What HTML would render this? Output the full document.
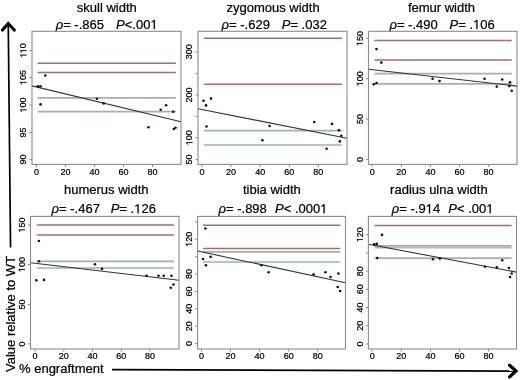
<!DOCTYPE html>
<html><head><meta charset="utf-8"><style>
html,body{margin:0;padding:0;background:#fff;}
svg{display:block;filter:blur(0.35px);}
text{font-family:"Liberation Sans", sans-serif;fill:#000;stroke:#000;stroke-width:0.22px;}
.o{fill-opacity:0;stroke-opacity:0;}
</style></head><body>
<svg width="520" height="380" viewBox="0 0 520 380">
<rect width="520" height="380" fill="#fff"/>
<text x="106.75" y="11.5" font-size="13" text-anchor="middle">skull width</text>
<text x="106.7" y="29" font-size="13" text-anchor="middle" xml:space="preserve"><tspan font-style="italic">ρ</tspan>= -.865   <tspan font-style="italic" dx="1.3">P</tspan>&lt;.00<tspan class="o">1</tspan></text>
<line x1="37.6" y1="63.3" x2="175.9" y2="63.3" stroke="#a46c75" stroke-width="1.5"/>
<line x1="37.6" y1="72.5" x2="175.9" y2="72.5" stroke="#a46c75" stroke-width="1.5"/>
<line x1="37.6" y1="97.8" x2="175.9" y2="97.8" stroke="#98ba9c" stroke-width="1.7"/>
<line x1="37.6" y1="111.7" x2="175.9" y2="111.7" stroke="#98ba9c" stroke-width="1.7"/>
<line x1="32" y1="85.9" x2="181" y2="121.7" stroke="#333333" stroke-width="1.1"/>
<circle cx="37.8" cy="86.2" r="1.3" fill="#111"/>
<circle cx="40.5" cy="86.2" r="1.3" fill="#111"/>
<circle cx="45.3" cy="75.5" r="1.3" fill="#111"/>
<circle cx="40.5" cy="104.4" r="1.3" fill="#111"/>
<circle cx="96.9" cy="98.8" r="1.3" fill="#111"/>
<circle cx="103.7" cy="103.4" r="1.3" fill="#111"/>
<circle cx="148.5" cy="127.3" r="1.3" fill="#111"/>
<circle cx="160.7" cy="109.7" r="1.3" fill="#111"/>
<circle cx="166.1" cy="105.3" r="1.3" fill="#111"/>
<circle cx="173.2" cy="111.8" r="1.3" fill="#111"/>
<circle cx="173.8" cy="129" r="1.3" fill="#111"/>
<circle cx="175.5" cy="127.8" r="1.3" fill="#111"/>
<rect x="32" y="31.3" width="149" height="133.1" fill="none" stroke="#8c8c8c" stroke-width="1.1"/>
<line x1="29.4" y1="159.6" x2="32" y2="159.6" stroke="#8c8c8c" stroke-width="1"/>
<text x="26.45" y="159.6" font-size="9" text-anchor="middle" transform="rotate(-90 26.45 159.6)">90</text>
<line x1="29.4" y1="132.4" x2="32" y2="132.4" stroke="#8c8c8c" stroke-width="1"/>
<text x="26.45" y="132.4" font-size="9" text-anchor="middle" transform="rotate(-90 26.45 132.4)">95</text>
<line x1="29.4" y1="105" x2="32" y2="105" stroke="#8c8c8c" stroke-width="1"/>
<text x="26.45" y="105" font-size="9" text-anchor="middle" transform="rotate(-90 26.45 105)"><tspan class="o">1</tspan>00</text>
<line x1="29.4" y1="77.6" x2="32" y2="77.6" stroke="#8c8c8c" stroke-width="1"/>
<text x="26.45" y="77.6" font-size="9" text-anchor="middle" transform="rotate(-90 26.45 77.6)"><tspan class="o">1</tspan>05</text>
<line x1="29.4" y1="50.5" x2="32" y2="50.5" stroke="#8c8c8c" stroke-width="1"/>
<text x="26.45" y="50.5" font-size="9" text-anchor="middle" transform="rotate(-90 26.45 50.5)"><tspan class="o">1</tspan><tspan class="o">1</tspan>0</text>
<line x1="36.5" y1="164.4" x2="36.5" y2="167" stroke="#8c8c8c" stroke-width="1"/>
<text x="36.5" y="174.9" font-size="9" text-anchor="middle">0</text>
<line x1="65.5" y1="164.4" x2="65.5" y2="167" stroke="#8c8c8c" stroke-width="1"/>
<text x="65.5" y="174.9" font-size="9" text-anchor="middle">20</text>
<line x1="94.5" y1="164.4" x2="94.5" y2="167" stroke="#8c8c8c" stroke-width="1"/>
<text x="94.5" y="174.9" font-size="9" text-anchor="middle">40</text>
<line x1="123.5" y1="164.4" x2="123.5" y2="167" stroke="#8c8c8c" stroke-width="1"/>
<text x="123.5" y="174.9" font-size="9" text-anchor="middle">60</text>
<line x1="152.5" y1="164.4" x2="152.5" y2="167" stroke="#8c8c8c" stroke-width="1"/>
<text x="152.5" y="174.9" font-size="9" text-anchor="middle">80</text>
<text x="273.1" y="11.5" font-size="13" text-anchor="middle">zygomous width</text>
<text x="274.25" y="29" font-size="13" text-anchor="middle" xml:space="preserve"><tspan font-style="italic">ρ</tspan>= -.629   <tspan font-style="italic" dx="1">P</tspan>= .032</text>
<line x1="203.7" y1="38.2" x2="342" y2="38.2" stroke="#a46c75" stroke-width="1.5"/>
<line x1="203.7" y1="84.2" x2="342" y2="84.2" stroke="#a46c75" stroke-width="1.5"/>
<line x1="203.7" y1="130.7" x2="342" y2="130.7" stroke="#98ba9c" stroke-width="1.7"/>
<line x1="203.7" y1="145" x2="342" y2="145" stroke="#98ba9c" stroke-width="1.7"/>
<line x1="198" y1="108.7" x2="347" y2="138.2" stroke="#333333" stroke-width="1.1"/>
<circle cx="203.5" cy="100.7" r="1.3" fill="#111"/>
<circle cx="206" cy="105.4" r="1.3" fill="#111"/>
<circle cx="211" cy="98.6" r="1.3" fill="#111"/>
<circle cx="206.5" cy="126.5" r="1.3" fill="#111"/>
<circle cx="262.4" cy="140.2" r="1.3" fill="#111"/>
<circle cx="269.6" cy="126" r="1.3" fill="#111"/>
<circle cx="314.3" cy="122" r="1.3" fill="#111"/>
<circle cx="332" cy="123.9" r="1.3" fill="#111"/>
<circle cx="338.9" cy="130.3" r="1.3" fill="#111"/>
<circle cx="341.3" cy="135.7" r="1.3" fill="#111"/>
<circle cx="339.8" cy="141.4" r="1.3" fill="#111"/>
<circle cx="326.6" cy="148.7" r="1.3" fill="#111"/>
<rect x="198" y="31.3" width="149" height="133.1" fill="none" stroke="#8c8c8c" stroke-width="1.1"/>
<line x1="195.4" y1="159.5" x2="198" y2="159.5" stroke="#8c8c8c" stroke-width="1"/>
<text x="192.45" y="159.5" font-size="9" text-anchor="middle" transform="rotate(-90 192.45 159.5)">50</text>
<line x1="195.4" y1="137.8" x2="198" y2="137.8" stroke="#8c8c8c" stroke-width="1"/>
<text x="192.45" y="137.8" font-size="9" text-anchor="middle" transform="rotate(-90 192.45 137.8)"><tspan class="o">1</tspan>00</text>
<line x1="195.4" y1="116.5" x2="198" y2="116.5" stroke="#8c8c8c" stroke-width="1"/>
<line x1="195.4" y1="94.9" x2="198" y2="94.9" stroke="#8c8c8c" stroke-width="1"/>
<text x="192.45" y="94.9" font-size="9" text-anchor="middle" transform="rotate(-90 192.45 94.9)">200</text>
<line x1="195.4" y1="73.6" x2="198" y2="73.6" stroke="#8c8c8c" stroke-width="1"/>
<line x1="195.4" y1="51.8" x2="198" y2="51.8" stroke="#8c8c8c" stroke-width="1"/>
<text x="192.45" y="51.8" font-size="9" text-anchor="middle" transform="rotate(-90 192.45 51.8)">300</text>
<line x1="202" y1="164.4" x2="202" y2="167" stroke="#8c8c8c" stroke-width="1"/>
<text x="202" y="174.9" font-size="9" text-anchor="middle">0</text>
<line x1="231.08" y1="164.4" x2="231.08" y2="167" stroke="#8c8c8c" stroke-width="1"/>
<text x="231.08" y="174.9" font-size="9" text-anchor="middle">20</text>
<line x1="260.16" y1="164.4" x2="260.16" y2="167" stroke="#8c8c8c" stroke-width="1"/>
<text x="260.16" y="174.9" font-size="9" text-anchor="middle">40</text>
<line x1="289.24" y1="164.4" x2="289.24" y2="167" stroke="#8c8c8c" stroke-width="1"/>
<text x="289.24" y="174.9" font-size="9" text-anchor="middle">60</text>
<line x1="318.32" y1="164.4" x2="318.32" y2="167" stroke="#8c8c8c" stroke-width="1"/>
<text x="318.32" y="174.9" font-size="9" text-anchor="middle">80</text>
<text x="441.5" y="11.5" font-size="13" text-anchor="middle">femur width</text>
<text x="442.1" y="29" font-size="13" text-anchor="middle" xml:space="preserve"><tspan font-style="italic">ρ</tspan>= -.490   <tspan font-style="italic" dx="1">P</tspan>= .<tspan class="o">1</tspan>06</text>
<line x1="374.4" y1="40.4" x2="511.7" y2="40.4" stroke="#a46c75" stroke-width="1.5"/>
<line x1="374.4" y1="59.9" x2="511.7" y2="59.9" stroke="#a46c75" stroke-width="1.5"/>
<line x1="374.4" y1="73.7" x2="511.7" y2="73.7" stroke="#98ba9c" stroke-width="1.7"/>
<line x1="374.4" y1="83.9" x2="511.7" y2="83.9" stroke="#98ba9c" stroke-width="1.7"/>
<line x1="368.5" y1="69.3" x2="517" y2="86.1" stroke="#333333" stroke-width="1.1"/>
<circle cx="376.5" cy="49.1" r="1.3" fill="#111"/>
<circle cx="381.3" cy="62.6" r="1.3" fill="#111"/>
<circle cx="373.7" cy="84.2" r="1.3" fill="#111"/>
<circle cx="376.5" cy="83" r="1.3" fill="#111"/>
<circle cx="432.6" cy="78.8" r="1.3" fill="#111"/>
<circle cx="439.5" cy="81.1" r="1.3" fill="#111"/>
<circle cx="484.5" cy="78.8" r="1.3" fill="#111"/>
<circle cx="502.2" cy="79.5" r="1.3" fill="#111"/>
<circle cx="496.8" cy="86.6" r="1.3" fill="#111"/>
<circle cx="510" cy="82.3" r="1.3" fill="#111"/>
<circle cx="509.3" cy="86.1" r="1.3" fill="#111"/>
<circle cx="511.7" cy="90.8" r="1.3" fill="#111"/>
<rect x="368.5" y="31.3" width="148.5" height="133.1" fill="none" stroke="#8c8c8c" stroke-width="1.1"/>
<line x1="365.9" y1="159.4" x2="368.5" y2="159.4" stroke="#8c8c8c" stroke-width="1"/>
<text x="362.95" y="159.4" font-size="9" text-anchor="middle" transform="rotate(-90 362.95 159.4)">0</text>
<line x1="365.9" y1="119.1" x2="368.5" y2="119.1" stroke="#8c8c8c" stroke-width="1"/>
<text x="362.95" y="119.1" font-size="9" text-anchor="middle" transform="rotate(-90 362.95 119.1)">50</text>
<line x1="365.9" y1="78.8" x2="368.5" y2="78.8" stroke="#8c8c8c" stroke-width="1"/>
<text x="362.95" y="78.8" font-size="9" text-anchor="middle" transform="rotate(-90 362.95 78.8)"><tspan class="o">1</tspan>00</text>
<line x1="365.9" y1="38.5" x2="368.5" y2="38.5" stroke="#8c8c8c" stroke-width="1"/>
<text x="362.95" y="38.5" font-size="9" text-anchor="middle" transform="rotate(-90 362.95 38.5)"><tspan class="o">1</tspan>50</text>
<line x1="372.2" y1="164.4" x2="372.2" y2="167" stroke="#8c8c8c" stroke-width="1"/>
<text x="372.2" y="174.9" font-size="9" text-anchor="middle">0</text>
<line x1="401.3" y1="164.4" x2="401.3" y2="167" stroke="#8c8c8c" stroke-width="1"/>
<text x="401.3" y="174.9" font-size="9" text-anchor="middle">20</text>
<line x1="430.4" y1="164.4" x2="430.4" y2="167" stroke="#8c8c8c" stroke-width="1"/>
<text x="430.4" y="174.9" font-size="9" text-anchor="middle">40</text>
<line x1="459.5" y1="164.4" x2="459.5" y2="167" stroke="#8c8c8c" stroke-width="1"/>
<text x="459.5" y="174.9" font-size="9" text-anchor="middle">60</text>
<line x1="488.6" y1="164.4" x2="488.6" y2="167" stroke="#8c8c8c" stroke-width="1"/>
<text x="488.6" y="174.9" font-size="9" text-anchor="middle">80</text>
<text x="106.25" y="193.7" font-size="13" text-anchor="middle">humerus width</text>
<text x="103.75" y="213.3" font-size="13" text-anchor="middle" xml:space="preserve"><tspan font-style="italic">ρ</tspan>= -.467   <tspan font-style="italic" dx="0">P</tspan>= .<tspan class="o">1</tspan>26</text>
<line x1="36.8" y1="225" x2="174" y2="225" stroke="#a46c75" stroke-width="1.5"/>
<line x1="36.8" y1="235" x2="174" y2="235" stroke="#a46c75" stroke-width="1.5"/>
<line x1="36.8" y1="261.3" x2="174" y2="261.3" stroke="#98ba9c" stroke-width="1.7"/>
<line x1="36.8" y1="268" x2="174" y2="268" stroke="#98ba9c" stroke-width="1.7"/>
<line x1="30.5" y1="262.7" x2="179" y2="280.3" stroke="#333333" stroke-width="1.1"/>
<circle cx="38.9" cy="241" r="1.3" fill="#111"/>
<circle cx="38.9" cy="261.3" r="1.3" fill="#111"/>
<circle cx="36.3" cy="280.3" r="1.3" fill="#111"/>
<circle cx="43.9" cy="279.9" r="1.3" fill="#111"/>
<circle cx="95" cy="264.2" r="1.3" fill="#111"/>
<circle cx="102" cy="268.9" r="1.3" fill="#111"/>
<circle cx="146.6" cy="275.8" r="1.3" fill="#111"/>
<circle cx="158.5" cy="275.8" r="1.3" fill="#111"/>
<circle cx="163.7" cy="275.8" r="1.3" fill="#111"/>
<circle cx="171.5" cy="275.8" r="1.3" fill="#111"/>
<circle cx="170.8" cy="287.7" r="1.3" fill="#111"/>
<circle cx="173.5" cy="284.5" r="1.3" fill="#111"/>
<rect x="30.5" y="216.4" width="148.5" height="132.6" fill="none" stroke="#8c8c8c" stroke-width="1.1"/>
<line x1="27.9" y1="343.9" x2="30.5" y2="343.9" stroke="#8c8c8c" stroke-width="1"/>
<text x="24.95" y="343.9" font-size="9" text-anchor="middle" transform="rotate(-90 24.95 343.9)">0</text>
<line x1="27.9" y1="304.4" x2="30.5" y2="304.4" stroke="#8c8c8c" stroke-width="1"/>
<text x="24.95" y="304.4" font-size="9" text-anchor="middle" transform="rotate(-90 24.95 304.4)">50</text>
<line x1="27.9" y1="264.6" x2="30.5" y2="264.6" stroke="#8c8c8c" stroke-width="1"/>
<text x="24.95" y="264.6" font-size="9" text-anchor="middle" transform="rotate(-90 24.95 264.6)"><tspan class="o">1</tspan>00</text>
<line x1="27.9" y1="225" x2="30.5" y2="225" stroke="#8c8c8c" stroke-width="1"/>
<text x="24.95" y="225" font-size="9" text-anchor="middle" transform="rotate(-90 24.95 225)"><tspan class="o">1</tspan>50</text>
<line x1="35.1" y1="349" x2="35.1" y2="351.6" stroke="#8c8c8c" stroke-width="1"/>
<text x="35.1" y="358.7" font-size="9" text-anchor="middle">0</text>
<line x1="63.8" y1="349" x2="63.8" y2="351.6" stroke="#8c8c8c" stroke-width="1"/>
<text x="63.8" y="358.7" font-size="9" text-anchor="middle">20</text>
<line x1="92.5" y1="349" x2="92.5" y2="351.6" stroke="#8c8c8c" stroke-width="1"/>
<text x="92.5" y="358.7" font-size="9" text-anchor="middle">40</text>
<line x1="121.2" y1="349" x2="121.2" y2="351.6" stroke="#8c8c8c" stroke-width="1"/>
<text x="121.2" y="358.7" font-size="9" text-anchor="middle">60</text>
<line x1="149.9" y1="349" x2="149.9" y2="351.6" stroke="#8c8c8c" stroke-width="1"/>
<text x="149.9" y="358.7" font-size="9" text-anchor="middle">80</text>
<text x="271.9" y="193.7" font-size="13" text-anchor="middle">tibia width</text>
<text x="273" y="213.3" font-size="13" text-anchor="middle" xml:space="preserve"><tspan font-style="italic">ρ</tspan>= -.898  <tspan font-style="italic" dx="1">P</tspan>&lt; .000<tspan class="o">1</tspan></text>
<line x1="203" y1="225.3" x2="340.3" y2="225.3" stroke="#a46c75" stroke-width="1.5"/>
<line x1="203" y1="248.5" x2="340.3" y2="248.5" stroke="#a46c75" stroke-width="1.5"/>
<line x1="203" y1="251.9" x2="340.3" y2="251.9" stroke="#98ba9c" stroke-width="1.7"/>
<line x1="203" y1="262" x2="340.3" y2="262" stroke="#98ba9c" stroke-width="1.7"/>
<line x1="197.6" y1="251" x2="345.5" y2="282.7" stroke="#333333" stroke-width="1.1"/>
<circle cx="205.4" cy="228.5" r="1.3" fill="#111"/>
<circle cx="203" cy="259" r="1.3" fill="#111"/>
<circle cx="205.9" cy="265.2" r="1.3" fill="#111"/>
<circle cx="210.6" cy="256.9" r="1.3" fill="#111"/>
<circle cx="261.5" cy="265.2" r="1.3" fill="#111"/>
<circle cx="268.6" cy="272.2" r="1.3" fill="#111"/>
<circle cx="313.6" cy="274.4" r="1.3" fill="#111"/>
<circle cx="325.4" cy="272.3" r="1.3" fill="#111"/>
<circle cx="330.6" cy="277" r="1.3" fill="#111"/>
<circle cx="338.4" cy="273.5" r="1.3" fill="#111"/>
<circle cx="337.7" cy="287" r="1.3" fill="#111"/>
<circle cx="340.1" cy="291" r="1.3" fill="#111"/>
<rect x="197.6" y="216.4" width="147.9" height="132.6" fill="none" stroke="#8c8c8c" stroke-width="1.1"/>
<line x1="195" y1="343.6" x2="197.6" y2="343.6" stroke="#8c8c8c" stroke-width="1"/>
<text x="192.05" y="343.6" font-size="9" text-anchor="middle" transform="rotate(-90 192.05 343.6)">0</text>
<line x1="195" y1="326.22" x2="197.6" y2="326.22" stroke="#8c8c8c" stroke-width="1"/>
<text x="192.05" y="326.22" font-size="9" text-anchor="middle" transform="rotate(-90 192.05 326.22)">20</text>
<line x1="195" y1="308.84" x2="197.6" y2="308.84" stroke="#8c8c8c" stroke-width="1"/>
<text x="192.05" y="308.84" font-size="9" text-anchor="middle" transform="rotate(-90 192.05 308.84)">40</text>
<line x1="195" y1="291.46" x2="197.6" y2="291.46" stroke="#8c8c8c" stroke-width="1"/>
<text x="192.05" y="291.46" font-size="9" text-anchor="middle" transform="rotate(-90 192.05 291.46)">60</text>
<line x1="195" y1="274.08" x2="197.6" y2="274.08" stroke="#8c8c8c" stroke-width="1"/>
<text x="192.05" y="274.08" font-size="9" text-anchor="middle" transform="rotate(-90 192.05 274.08)">80</text>
<line x1="195" y1="256.7" x2="197.6" y2="256.7" stroke="#8c8c8c" stroke-width="1"/>
<line x1="195" y1="239.32" x2="197.6" y2="239.32" stroke="#8c8c8c" stroke-width="1"/>
<text x="192.05" y="239.32" font-size="9" text-anchor="middle" transform="rotate(-90 192.05 239.32)"><tspan class="o">1</tspan>20</text>
<line x1="195" y1="221.94" x2="197.6" y2="221.94" stroke="#8c8c8c" stroke-width="1"/>
<line x1="201.4" y1="349" x2="201.4" y2="351.6" stroke="#8c8c8c" stroke-width="1"/>
<text x="201.4" y="358.7" font-size="9" text-anchor="middle">0</text>
<line x1="230.5" y1="349" x2="230.5" y2="351.6" stroke="#8c8c8c" stroke-width="1"/>
<text x="230.5" y="358.7" font-size="9" text-anchor="middle">20</text>
<line x1="259.6" y1="349" x2="259.6" y2="351.6" stroke="#8c8c8c" stroke-width="1"/>
<text x="259.6" y="358.7" font-size="9" text-anchor="middle">40</text>
<line x1="288.7" y1="349" x2="288.7" y2="351.6" stroke="#8c8c8c" stroke-width="1"/>
<text x="288.7" y="358.7" font-size="9" text-anchor="middle">60</text>
<line x1="317.8" y1="349" x2="317.8" y2="351.6" stroke="#8c8c8c" stroke-width="1"/>
<text x="317.8" y="358.7" font-size="9" text-anchor="middle">80</text>
<text x="438.9" y="193.7" font-size="13" text-anchor="middle">radius ulna width</text>
<text x="442.7" y="213.3" font-size="13" text-anchor="middle" xml:space="preserve"><tspan font-style="italic">ρ</tspan>= -.9<tspan class="o">1</tspan>4  <tspan font-style="italic" dx="1">P</tspan>&lt; .00<tspan class="o">1</tspan></text>
<line x1="374.4" y1="225.4" x2="511.7" y2="225.4" stroke="#a46c75" stroke-width="1.5"/>
<line x1="374.4" y1="258.1" x2="511.7" y2="258.1" stroke="#98ba9c" stroke-width="1.7"/>
<line x1="374.4" y1="245.9" x2="511.7" y2="245.9" stroke="#b2a69f" stroke-width="1.7"/>
<line x1="374.4" y1="247.6" x2="511.7" y2="247.6" stroke="#b4bcae" stroke-width="1.7"/>
<line x1="368.4" y1="244.3" x2="516.5" y2="272.1" stroke="#333333" stroke-width="1.1"/>
<circle cx="382" cy="234.9" r="1.3" fill="#111"/>
<circle cx="374.2" cy="244.3" r="1.3" fill="#111"/>
<circle cx="376.8" cy="243.9" r="1.3" fill="#111"/>
<circle cx="377.2" cy="258.1" r="1.3" fill="#111"/>
<circle cx="432.9" cy="259.2" r="1.3" fill="#111"/>
<circle cx="439.8" cy="258.6" r="1.3" fill="#111"/>
<circle cx="485" cy="266.8" r="1.3" fill="#111"/>
<circle cx="496.8" cy="267.3" r="1.3" fill="#111"/>
<circle cx="502.2" cy="260.2" r="1.3" fill="#111"/>
<circle cx="508.9" cy="268" r="1.3" fill="#111"/>
<circle cx="511.7" cy="273.5" r="1.3" fill="#111"/>
<circle cx="510" cy="277" r="1.3" fill="#111"/>
<rect x="368.4" y="216.4" width="148.1" height="132.6" fill="none" stroke="#8c8c8c" stroke-width="1.1"/>
<line x1="365.8" y1="344" x2="368.4" y2="344" stroke="#8c8c8c" stroke-width="1"/>
<text x="362.85" y="344" font-size="9" text-anchor="middle" transform="rotate(-90 362.85 344)">0</text>
<line x1="365.8" y1="325.78" x2="368.4" y2="325.78" stroke="#8c8c8c" stroke-width="1"/>
<text x="362.85" y="325.78" font-size="9" text-anchor="middle" transform="rotate(-90 362.85 325.78)">20</text>
<line x1="365.8" y1="307.56" x2="368.4" y2="307.56" stroke="#8c8c8c" stroke-width="1"/>
<text x="362.85" y="307.56" font-size="9" text-anchor="middle" transform="rotate(-90 362.85 307.56)">40</text>
<line x1="365.8" y1="289.34" x2="368.4" y2="289.34" stroke="#8c8c8c" stroke-width="1"/>
<text x="362.85" y="289.34" font-size="9" text-anchor="middle" transform="rotate(-90 362.85 289.34)">60</text>
<line x1="365.8" y1="271.12" x2="368.4" y2="271.12" stroke="#8c8c8c" stroke-width="1"/>
<text x="362.85" y="271.12" font-size="9" text-anchor="middle" transform="rotate(-90 362.85 271.12)">80</text>
<line x1="365.8" y1="252.9" x2="368.4" y2="252.9" stroke="#8c8c8c" stroke-width="1"/>
<line x1="365.8" y1="234.68" x2="368.4" y2="234.68" stroke="#8c8c8c" stroke-width="1"/>
<text x="362.85" y="234.68" font-size="9" text-anchor="middle" transform="rotate(-90 362.85 234.68)"><tspan class="o">1</tspan>20</text>
<line x1="372.2" y1="349" x2="372.2" y2="351.6" stroke="#8c8c8c" stroke-width="1"/>
<text x="372.2" y="358.7" font-size="9" text-anchor="middle">0</text>
<line x1="401.3" y1="349" x2="401.3" y2="351.6" stroke="#8c8c8c" stroke-width="1"/>
<text x="401.3" y="358.7" font-size="9" text-anchor="middle">20</text>
<line x1="430.4" y1="349" x2="430.4" y2="351.6" stroke="#8c8c8c" stroke-width="1"/>
<text x="430.4" y="358.7" font-size="9" text-anchor="middle">40</text>
<line x1="459.5" y1="349" x2="459.5" y2="351.6" stroke="#8c8c8c" stroke-width="1"/>
<text x="459.5" y="358.7" font-size="9" text-anchor="middle">60</text>
<line x1="488.6" y1="349" x2="488.6" y2="351.6" stroke="#8c8c8c" stroke-width="1"/>
<text x="488.6" y="358.7" font-size="9" text-anchor="middle">80</text>
<line x1="8.25" y1="23.5" x2="10.55" y2="247.5" stroke="#000" stroke-width="1.7"/>
<polyline points="2.4,30.1 8.2,23.5 14.3,30" fill="none" stroke="#000" stroke-width="3.1" stroke-linecap="round" stroke-linejoin="miter"/>
<text x="14.8" y="372" font-size="13" transform="rotate(-90 14.8 372)">Value relative to WT</text>
<text x="19" y="372.9" font-size="13">% engraftment</text>
<line x1="112" y1="369.6" x2="515" y2="371.1" stroke="#000" stroke-width="1.7"/>
<polyline points="509.6,365.2 516,371.05 509.6,376.9" fill="none" stroke="#000" stroke-width="3.2" stroke-linecap="round" stroke-linejoin="miter"/>
<path transform="translate(150.467 29.000) scale(0.006348 -0.006348)" d="M515,0L515,1237L197,1010L197,1180L530,1409L696,1409L696,0Z" fill="#000" stroke="#000" stroke-width="34.7"/>
<path transform="rotate(-90 26.45 105) translate(18.934 105.000) scale(0.004395 -0.004395)" d="M515,0L515,1237L197,1010L197,1180L530,1409L696,1409L696,0Z" fill="#000" stroke="#000" stroke-width="50.1"/>
<path transform="rotate(-90 26.45 77.6) translate(18.934 77.600) scale(0.004395 -0.004395)" d="M515,0L515,1237L197,1010L197,1180L530,1409L696,1409L696,0Z" fill="#000" stroke="#000" stroke-width="50.1"/>
<path transform="rotate(-90 26.45 50.5) translate(19.263 50.500) scale(0.004395 -0.004395)" d="M515,0L515,1237L197,1010L197,1180L530,1409L696,1409L696,0Z" fill="#000" stroke="#000" stroke-width="50.1"/>
<path transform="rotate(-90 26.45 50.5) translate(23.606 50.500) scale(0.004395 -0.004395)" d="M515,0L515,1237L197,1010L197,1180L530,1409L696,1409L696,0Z" fill="#000" stroke="#000" stroke-width="50.1"/>
<path transform="rotate(-90 192.45 137.8) translate(184.934 137.800) scale(0.004395 -0.004395)" d="M515,0L515,1237L197,1010L197,1180L530,1409L696,1409L696,0Z" fill="#000" stroke="#000" stroke-width="50.1"/>
<path transform="translate(473.061 29.000) scale(0.006348 -0.006348)" d="M515,0L515,1237L197,1010L197,1180L530,1409L696,1409L696,0Z" fill="#000" stroke="#000" stroke-width="34.7"/>
<path transform="rotate(-90 362.95 78.8) translate(355.434 78.800) scale(0.004395 -0.004395)" d="M515,0L515,1237L197,1010L197,1180L530,1409L696,1409L696,0Z" fill="#000" stroke="#000" stroke-width="50.1"/>
<path transform="rotate(-90 362.95 38.5) translate(355.434 38.500) scale(0.004395 -0.004395)" d="M515,0L515,1237L197,1010L197,1180L530,1409L696,1409L696,0Z" fill="#000" stroke="#000" stroke-width="50.1"/>
<path transform="translate(134.211 213.300) scale(0.006348 -0.006348)" d="M515,0L515,1237L197,1010L197,1180L530,1409L696,1409L696,0Z" fill="#000" stroke="#000" stroke-width="34.7"/>
<path transform="rotate(-90 24.95 264.6) translate(17.434 264.600) scale(0.004395 -0.004395)" d="M515,0L515,1237L197,1010L197,1180L530,1409L696,1409L696,0Z" fill="#000" stroke="#000" stroke-width="50.1"/>
<path transform="rotate(-90 24.95 225) translate(17.434 225.000) scale(0.004395 -0.004395)" d="M515,0L515,1237L197,1010L197,1180L530,1409L696,1409L696,0Z" fill="#000" stroke="#000" stroke-width="50.1"/>
<path transform="translate(320.234 213.300) scale(0.006348 -0.006348)" d="M515,0L515,1237L197,1010L197,1180L530,1409L696,1409L696,0Z" fill="#000" stroke="#000" stroke-width="34.7"/>
<path transform="rotate(-90 192.05 239.32) translate(184.534 239.320) scale(0.004395 -0.004395)" d="M515,0L515,1237L197,1010L197,1180L530,1409L696,1409L696,0Z" fill="#000" stroke="#000" stroke-width="50.1"/>
<path transform="translate(425.669 213.300) scale(0.006348 -0.006348)" d="M515,0L515,1237L197,1010L197,1180L530,1409L696,1409L696,0Z" fill="#000" stroke="#000" stroke-width="34.7"/>
<path transform="translate(486.325 213.300) scale(0.006348 -0.006348)" d="M515,0L515,1237L197,1010L197,1180L530,1409L696,1409L696,0Z" fill="#000" stroke="#000" stroke-width="34.7"/>
<path transform="rotate(-90 362.85 234.68) translate(355.334 234.680) scale(0.004395 -0.004395)" d="M515,0L515,1237L197,1010L197,1180L530,1409L696,1409L696,0Z" fill="#000" stroke="#000" stroke-width="50.1"/>
</svg>
</body></html>
